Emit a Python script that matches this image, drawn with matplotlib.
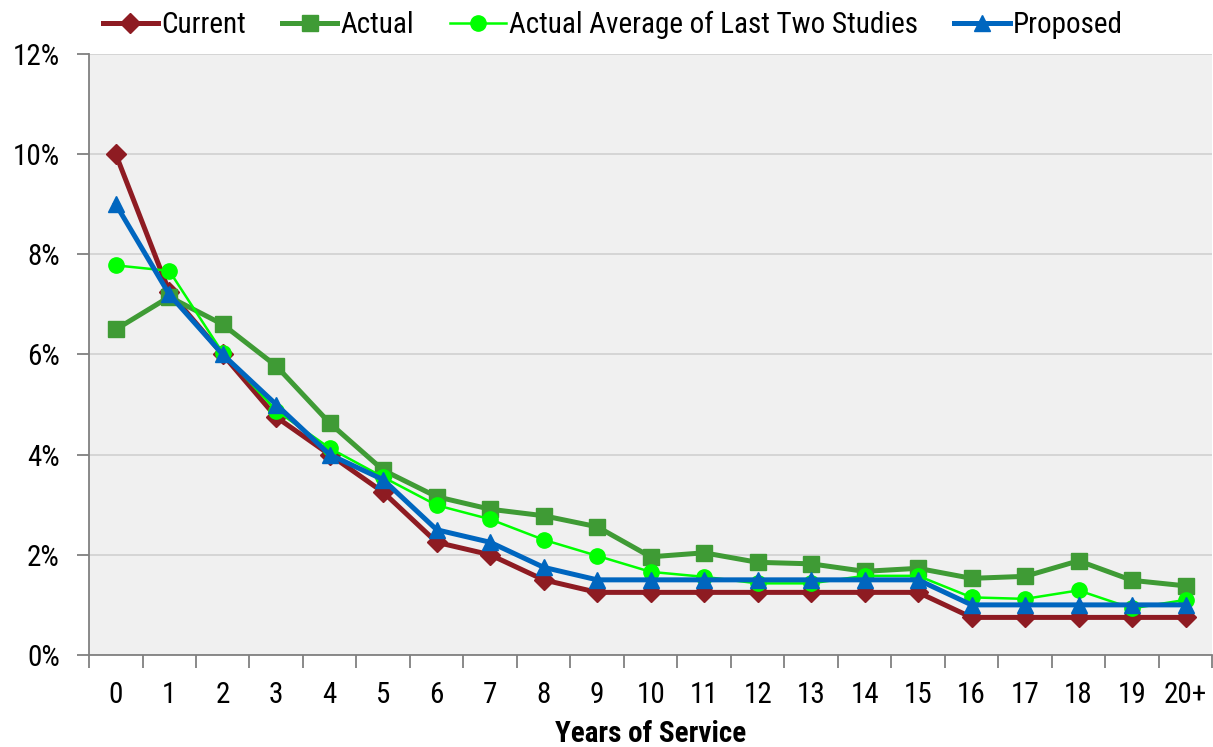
import matplotlib
matplotlib.use("Agg")
import matplotlib.pyplot as plt
from matplotlib import font_manager
from matplotlib.ticker import FuncFormatter

# narrow face if one is installed, otherwise plain Liberation Sans a bit smaller
names = set(f.name for f in font_manager.fontManager.ttflist)
narrow = None
for n in ['Liberation Sans Narrow', 'Arial Narrow', 'DejaVu Sans Condensed', 'Roboto Condensed']:
    if n in names:
        narrow = n
        break
if narrow:
    plt.rcParams['font.family'] = [narrow, 'DejaVu Sans']
    fs = 21
else:
    plt.rcParams['font.family'] = ['Liberation Sans', 'DejaVu Sans']
    fs = 19

# ---- data ----
years = ['0', '1', '2', '3', '4', '5', '6', '7', '8', '9', '10',
         '11', '12', '13', '14', '15', '16', '17', '18', '19', '20+']
current = [10.0, 7.25, 6.0, 4.75, 4.0, 3.25, 2.25, 2.0, 1.5, 1.25, 1.25,
           1.25, 1.25, 1.25, 1.25, 1.25, 0.75, 0.75, 0.75, 0.75, 0.75]
actual = [6.5, 7.15, 6.6, 5.77, 4.63, 3.69, 3.16, 2.91, 2.78, 2.56, 1.96,
          2.04, 1.85, 1.82, 1.67, 1.73, 1.53, 1.57, 1.88, 1.49, 1.38]
avg_last_two = [7.78, 7.67, 6.03, 4.88, 4.13, 3.55, 2.99, 2.71, 2.3, 1.98, 1.66,
                1.56, 1.43, 1.43, 1.58, 1.58, 1.15, 1.12, 1.29, 0.93, 1.1]
proposed = [9.0, 7.2, 6.0, 5.0, 4.0, 3.5, 2.5, 2.25, 1.75, 1.5, 1.5,
            1.5, 1.5, 1.5, 1.5, 1.5, 1.0, 1.0, 1.0, 1.0, 1.0]

fig = plt.figure(figsize=(12.13, 7.47), dpi=100)
ax = fig.add_axes([0.0734, 0.1232, 0.926, 0.8045])
ax.set_facecolor('#f0f0f0')

x = list(range(len(years)))
ax.plot(x, current, color='#8e1b22', lw=3.6, marker='D', ms=10, label='Current', zorder=3)
ax.plot(x, actual, color='#3f9b35', lw=3.6, marker='s', ms=11, label='Actual', zorder=4)
ax.plot(x, avg_last_two, color='#00ff00', lw=1.8, marker='o', ms=11,
        label='Actual Average of Last Two Studies', zorder=5)
ax.plot(x, proposed, color='#0066bf', lw=3.6, marker='^', ms=11, label='Proposed', zorder=6)

ax.set_xlim(-0.5, len(years) - 0.5)
ax.set_ylim(0, 12)
ax.set_yticks([0, 2, 4, 6, 8, 10, 12])
ax.yaxis.set_major_formatter(FuncFormatter(lambda v, p: '%d%%' % v))
ax.set_xticks([i - 0.5 for i in range(len(years) + 1)])
ax.set_xticklabels([])
ax.set_xticks(x, minor=True)
ax.set_xticklabels(years, minor=True)
ax.tick_params(axis='x', which='major', length=9, color='#808080', width=1.3, direction='out')
ax.tick_params(axis='x', which='minor', length=0, labelsize=fs, pad=19)
ax.tick_params(axis='y', length=9, color='#808080', width=1.3, labelsize=fs, pad=12)
ax.grid(axis='y', color='#d0d0d0', lw=1.2)
ax.set_axisbelow(True)
for s in ['top', 'right']:
    ax.spines[s].set_visible(False)
for s in ['left', 'bottom']:
    ax.spines[s].set_color('#808080')
    ax.spines[s].set_linewidth(1.3)

ax.set_xlabel('Years of Service', fontsize=fs, fontweight='bold', labelpad=8)

fig.legend(loc='upper center', bbox_to_anchor=(0.505, 1.02), ncol=4, frameon=False,
           fontsize=fs, handlelength=1.9, handletextpad=0.1, columnspacing=1.25)

fig.savefig('out.png', dpi=100)
